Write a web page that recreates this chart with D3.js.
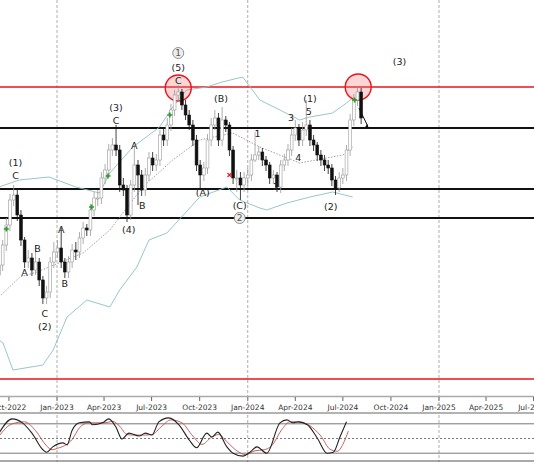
<!DOCTYPE html>
<html><head><meta charset="utf-8">
<script src="https://cdn.jsdelivr.net/npm/d3@7"></script>
<style>body{margin:0;background:#fff}svg{display:block;font-family:"DejaVu Sans",sans-serif}</style>
</head><body><svg id="c" width="534" height="462"></svg>
<script>
// weekly candles starting 2022-09-12, price units arbitrary
const startWeek = new Date(2022, 8, 12);
const closes = [135,155,175,200,205,185,160,138,142,130,138,120,102,108,138,148,152,138,128,138,
  150,148,162,172,170,190,202,202,222,230,250,255,250,215,210,185,215,235,225,210,
  225,242,235,240,265,260,275,290,305,308,295,285,275,260,235,225,232,260,275,282,
  260,280,275,250,222,222,215,222,225,240,245,248,240,235,222,225,213,235,240,250,
  265,272,260,270,275,260,255,245,240,235,232,220,212,222,225,250,280,300,308,282];
const firstOpen = 125;
const highs = [141,160,182,206,215,210,190,163,150,147,155,142,124,114,143,158,160,172,142,144,
  156,158,168,178,176,196,208,210,228,236,256,262,275,255,222,215,220,255,240,230,
  232,248,248,246,270,272,282,296,310,315,311,300,290,280,265,240,238,266,282,290,
  287,293,284,278,254,230,228,228,232,246,268,254,252,244,238,230,228,240,246,256,
  272,280,276,278,300,280,265,258,250,245,240,236,224,228,232,255,286,306,313,312];
const lows = [119,129,149,169,194,179,154,132,132,124,125,114,96,96,102,132,142,132,122,122,
  132,140,142,156,164,164,184,194,196,216,224,244,244,208,204,178,180,208,195,204,
  204,219,229,229,234,254,254,269,284,298,290,280,270,254,229,212,219,226,254,270,
  254,254,268,244,216,208,200,208,214,219,238,240,234,229,216,216,208,207,229,234,
  244,259,254,254,264,254,249,239,234,229,226,214,205,208,216,219,244,274,294,276];

// bollinger bands, [week index, price]
const bandUpper = [[0,213],[5.5,220],[13.7,223],[21,213],[27.5,207],[30.3,227],[36.6,253],[43.9,273],[47.5,293],[51.3,310],[56.8,313],[61,318],[66.6,323],[71.3,300],[76.8,290],[82.2,280],[85,283],[91.2,287],[95,297],[96.7,302]];
const bandMiddle = [[0,103],[5.7,123],[10.4,128],[23,147],[30.3,170],[39.3,213],[47.5,240],[54.9,260],[63.9,267],[71.3,253],[82.2,237],[94,245],[96.7,253]];
const bandLower = [[0,60],[1.1,57],[3.8,30],[12,35],[14.8,50],[18.6,83],[24,100],[30.3,93],[33,110],[37.7,133],[41,160],[45.9,167],[54.9,203],[62.3,213],[65.8,200],[71.3,192],[73.2,190],[78.7,197],[85,203],[91.2,208],[96.7,203]];

// stochastic, [week index, value]
const stochK = [[0,61],[3.6,90],[6.4,82],[9,61],[12,27],[13,22],[14.7,33],[17.5,41],[18.6,37],[20,67],[22,82],[24.7,84],[25.6,78],[28.3,82],[30,90],[32,73],[33.6,49],[35.5,61],[38.3,55],[40,61],[41.8,57],[43.7,84],[46.4,92],[49.2,78],[52,47],[54,31],[56.8,61],[58.2,53],[59.8,63],[62.3,33],[64,20],[66.7,14],[68.6,22],[70.5,33],[73.2,20],[76.8,82],[78.7,88],[80.4,82],[81.8,84],[84.3,78],[87,51],[89.7,20],[91.4,22],[93.2,53],[95,84]];
const stochD = [[0,55],[3.6,80],[7,84],[10,66],[13,35],[14.5,27],[16,30],[18.5,38],[20,48],[22,72],[24.5,82],[26.5,82],[29,82],[31,85],[33,75],[35,58],[37,57],[39.5,57],[41.8,58],[44.5,75],[47,88],[50,82],[53,55],[55.5,38],[58,52],[60,58],[62.5,42],[65,25],[67.5,17],[70,25],[72.5,27],[74.5,35],[77.5,70],[79.5,84],[82,84],[85,76],[88,55],[90.5,28],[92.5,24],[94,38],[95.5,65]];

const hLinesRed = [313, 21];
const hLinesBlack = [272, 211, 182];
const tickDates = d3.range(0, 12).map(q => new Date(2022, 9 + 3 * q, 1));
const gridYears = [new Date(2023,0,1), new Date(2024,0,1), new Date(2025,0,1)];

const waveLabels = [
  [4.5,238,"(1)"],[4.5,225,"C"],[7,128,"A"],[10.5,152,"B"],[12.5,87,"C"],[12.5,74,"(2)"],
  [17,171,"A"],[18,117,"B"],[32,293,"(3)"],[32,280,"C"],[35.5,171,"(4)"],[37,255,"A"],[39.2,195,"B"],
  [49,333,"(5)"],[49,320,"C"],[55.7,208,"(A)"],[60.7,302,"(B)"],[70.7,267,"1"],[65.8,195,"(C)"],
  [75.7,214,"2"],[79.8,283,"3"],[81.8,243,"4"],[84.7,289,"5"],[85,302,"(1)"],[90.7,194,"(2)"],[109.5,339,"(3)"]];
const circledLabels = [[49,347,"1"],[65.8,182,"2"]];
const greenMarks = [[2,171],[25.3,193],[29.8,224],[46.7,285],[97.2,300]];
const redCircles = [[49,312],[98.2,313]];

const W = 534;
const svg = d3.select("#c");
const x = d3.scaleTime().domain([new Date(2023,0,1), new Date(2025,0,1)]).range([57, 439]);
const y = d3.scaleLinear().domain([313, 21]).range([87, 379]);
const weekDate = i => new Date(+startWeek + i * 7 * 864e5);
const xi = i => x(weekDate(i));
const sy = d3.scaleLinear().domain([0, 100]).range([463, 414]);

// vertical grid
svg.selectAll(".vg").data(gridYears).join("line")
  .attr("x1", d => x(d)).attr("x2", d => x(d)).attr("y1", 0).attr("y2", 462)
  .attr("stroke", "#999").attr("stroke-dasharray", "3,2").attr("stroke-width", 0.8);

// horizontal levels
svg.selectAll(".hr").data(hLinesRed).join("line")
  .attr("x1", 0).attr("x2", W).attr("y1", d => y(d)).attr("y2", d => y(d))
  .attr("stroke", "#e8141b").attr("stroke-width", 1.6);
svg.selectAll(".hb").data(hLinesBlack).join("line")
  .attr("x1", 0).attr("x2", W).attr("y1", d => y(d)).attr("y2", d => y(d))
  .attr("stroke", "#111").attr("stroke-width", 2);

// bands
const line = d3.line().x(d => xi(d[0])).y(d => y(d[1]));
svg.append("path").attr("d", line(bandUpper)).attr("fill", "none").attr("stroke", "#8fbfbf").attr("stroke-width", 0.9);
svg.append("path").attr("d", line(bandLower)).attr("fill", "none").attr("stroke", "#8fbfbf").attr("stroke-width", 0.9);
svg.append("path").attr("d", line(bandMiddle)).attr("fill", "none").attr("stroke", "#888").attr("stroke-width", 0.8).attr("stroke-dasharray", "1.5,1.5");

// red circles
svg.selectAll(".rc").data(redCircles).join("circle")
  .attr("cx", d => xi(d[0])).attr("cy", d => y(d[1])).attr("r", 13)
  .attr("fill", "rgba(240,120,120,0.3)").attr("stroke", "#e8141b").attr("stroke-width", 1.4);

// candles
const candles = closes.map((c, i) => ({i, o: i ? closes[i-1] : firstOpen, c, h: highs[i], l: lows[i]}));
const cg = svg.append("g");
cg.selectAll(".wick").data(candles).join("line")
  .attr("x1", d => xi(d.i)).attr("x2", d => xi(d.i)).attr("y1", d => y(d.h)).attr("y2", d => y(d.l))
  .attr("stroke", d => d.c >= d.o ? "#999" : "#111").attr("stroke-width", 0.8);
cg.selectAll(".body").data(candles).join("rect")
  .attr("x", d => xi(d.i) - 1.4).attr("width", 2.8)
  .attr("y", d => y(Math.max(d.o, d.c))).attr("height", d => Math.max(1, Math.abs(y(d.o) - y(d.c))))
  .attr("fill", d => d.c >= d.o ? "#fff" : "#111").attr("stroke", d => d.c >= d.o ? "#999" : "#111").attr("stroke-width", 0.6);

// green markers
svg.selectAll(".gm").data(greenMarks).join("path")
  .attr("d", d => `M${xi(d[0])-2.5},${y(d[1])}h5M${xi(d[0])},${y(d[1])-2.5}v5`)
  .attr("stroke", "#2a9a2a").attr("stroke-width", 1.6);
// red cross
svg.append("path").attr("d", `M${xi(63)-2},${y(225)-2}l4,4M${xi(63)+2},${y(225)-2}l-4,4`).attr("stroke", "#d22").attr("stroke-width", 1.2);

// arrow
svg.append("line").attr("x1", xi(98.4)).attr("y1", y(292)).attr("x2", xi(100.8)).attr("y2", y(274)).attr("stroke", "#111").attr("stroke-width", 1);
svg.append("path").attr("d", `M${xi(101.2)},${y(271)}l-4,-2l2,-3z`).attr("fill", "#111");

// labels
svg.selectAll(".wl").data(waveLabels).join("text")
  .attr("x", d => xi(d[0])).attr("y", d => y(d[1]) + 4).attr("text-anchor", "middle")
  .attr("font-size", 9.5).attr("fill", "#222").text(d => d[2]);
const cl = svg.selectAll(".cl").data(circledLabels).join("g");
cl.append("circle").attr("cx", d => xi(d[0])).attr("cy", d => y(d[1])).attr("r", 5.5)
  .attr("fill", "#eee").attr("stroke", "#777").attr("stroke-width", 0.8);
cl.append("text").attr("x", d => xi(d[0])).attr("y", d => y(d[1]) + 3.3).attr("text-anchor", "middle")
  .attr("font-size", 9).attr("fill", "#555").text(d => d[2]);

// time axis strip
svg.append("rect").attr("x", 0).attr("y", 396).attr("width", W).attr("height", 17).attr("fill", "#fff");
svg.append("line").attr("x1", 0).attr("x2", W).attr("y1", 396.5).attr("y2", 396.5).attr("stroke", "#aaa").attr("stroke-width", 1.5);
svg.append("line").attr("x1", 0).attr("x2", W).attr("y1", 413).attr("y2", 413).attr("stroke", "#666").attr("stroke-width", 1);
const axis = svg.append("g");
axis.selectAll("line").data(tickDates).join("line")
  .attr("x1", d => x(d)).attr("x2", d => x(d)).attr("y1", 397).attr("y2", 401).attr("stroke", "#666");
axis.selectAll("text").data(tickDates).join("text")
  .attr("x", d => x(d)).attr("y", 410).attr("text-anchor", "middle").attr("font-size", 7.5).attr("fill", "#333")
  .text(d3.timeFormat("%b-%Y"));
svg.selectAll(".vg2").data(gridYears).join("line")
  .attr("x1", d => x(d)).attr("x2", d => x(d)).attr("y1", 397).attr("y2", 413)
  .attr("stroke", "#999").attr("stroke-dasharray", "3,2").attr("stroke-width", 0.8);

// stochastic panel
[80, 20].forEach(v => svg.append("line").attr("x1", 0).attr("x2", W).attr("y1", sy(v)).attr("y2", sy(v)).attr("stroke", "#555").attr("stroke-width", 0.8));
svg.append("line").attr("x1", 0).attr("x2", W).attr("y1", sy(50)).attr("y2", sy(50)).attr("stroke", "#555").attr("stroke-dasharray", "2,2").attr("stroke-width", 0.8);
svg.append("line").attr("x1", 0).attr("x2", W).attr("y1", 461).attr("y2", 461).attr("stroke", "#555");
const sl = d3.line().x(d => xi(d[0])).y(d => sy(d[1])).curve(d3.curveMonotoneX);
svg.append("path").attr("d", sl(stochD)).attr("fill", "none").attr("stroke", "#c0504d").attr("stroke-width", 0.9);
svg.append("path").attr("d", sl(stochK)).attr("fill", "none").attr("stroke", "#222").attr("stroke-width", 1.1);
</script></body></html>
